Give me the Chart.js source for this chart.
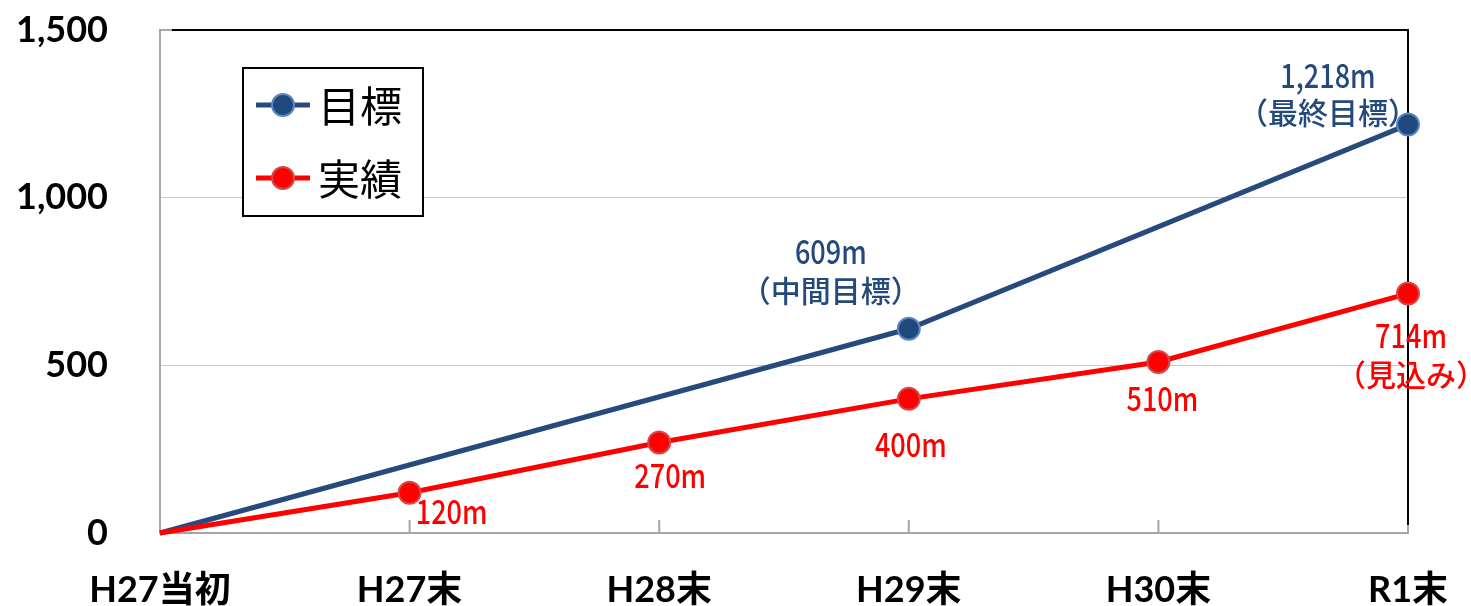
<!DOCTYPE html>
<html>
<head>
<meta charset="utf-8">
<script src="https://cdn.jsdelivr.net/npm/chart.js@4.4.1/dist/chart.umd.min.js"></script>
<style>
html,body{margin:0;padding:0;background:#fff;}
canvas{display:block;}
</style>
</head>
<body>
<canvas id="c" width="1471" height="606"></canvas>
<script>
// ---- data ----
const categories = ['H27当初', 'H27末', 'H28末', 'H29末', 'H30末', 'R1末'];
const targetValues = [0, null, null, 609, null, 1218];
const actualValues = [0, 120, 270, 400, 510, 714];
const yTickValues = [0, 500, 1000, 1500];
const targetLabels = [null, null, null, ['609m', '（中間目標）'], null, ['1,218m', '（最終目標）']];
const actualLabels = [null, ['120m'], ['270m'], ['400m'], ['510m'], ['714m', '（見込み）']];

// ---- styles ----
const BLUE = '#264a7c';
const BLUE_TXT = '#24497b';
const RED = '#ff0000';
const AXIS_GRAY = '#a6a6a6';
const GRID_GRAY = '#c8c8c8';
const CLEAR = 'rgba(0,0,0,0)';
// label offsets relative to point (first line), second line offset
const targetOffsets = [null, null, null, {dx: -78, dy: -77, dy2: -38}, null, {dx: -80, dy: -49, dy2: -12}];
const actualOffsets = [null, {dx: 42, dy: 19}, {dx: 11, dy: 33}, {dx: 2, dy: 46}, {dx: 4, dy: 36}, {dx: 3, dy: 42, dy2: 81}];

function drawText(ctx, text, x, y, font, color, sx) {
  ctx.save();
  ctx.font = font;
  ctx.fillStyle = color;
  ctx.textAlign = 'center';
  ctx.textBaseline = 'middle';
  ctx.translate(x, y);
  ctx.scale(sx, 1);
  ctx.fillText(text, 0, 0);
  ctx.restore();
}

const decorPlugin = {
  id: 'decor',
  beforeDatasetsDraw(chart) {
    const ctx = chart.ctx;
    const a = chart.chartArea;
    const xs = chart.scales.x;
    ctx.save();
    ctx.strokeStyle = AXIS_GRAY;
    ctx.lineWidth = 2;
    for (let i = 1; i < categories.length; i++) {
      const x = xs.getPixelForValue(i);
      ctx.beginPath();
      ctx.moveTo(x, a.bottom - 13);
      ctx.lineTo(x, a.bottom);
      ctx.stroke();
    }
    ctx.strokeStyle = '#000';
    ctx.lineWidth = 2;
    ctx.beginPath();
    ctx.moveTo(a.left + 12, a.top);
    ctx.lineTo(a.right, a.top);
    ctx.lineTo(a.right, a.bottom - 8);
    ctx.stroke();
    ctx.strokeStyle = AXIS_GRAY;
    ctx.beginPath();
    ctx.moveTo(a.left, a.top);
    ctx.lineTo(a.left + 12, a.top);
    ctx.stroke();
    ctx.restore();
  },
  afterDatasetsDraw(chart) {
    const ctx = chart.ctx;
    const xs = chart.scales.x, ys = chart.scales.y;
    const numFont = "500 33px 'Noto Sans CJK JP'";
    const cjkFont = "500 30px 'Noto Sans CJK JP'";
    function labelSet(values, labels, offsets, color) {
      labels.forEach((lab, i) => {
        if (!lab || values[i] == null) return;
        const px = xs.getPixelForValue(i);
        const py = ys.getPixelForValue(values[i]);
        const o = offsets[i];
        drawText(ctx, lab[0], px + o.dx, py + o.dy, numFont, color, 0.82);
        if (lab[1]) drawText(ctx, lab[1], px + o.dx, py + o.dy2, cjkFont, color, 1);
      });
    }
    labelSet(targetValues, targetLabels, targetOffsets, BLUE_TXT);
    labelSet(actualValues, actualLabels, actualOffsets, RED);

    ctx.save();
    ctx.strokeStyle = '#000';
    ctx.lineWidth = 2;
    ctx.fillStyle = '#fff';
    ctx.fillRect(243, 68, 180, 148);
    ctx.strokeRect(243, 68, 180, 148);
    const rows = [105, 178];
    const order = [1, 0];
    order.forEach((di, r) => {
      const ds = chart.data.datasets[di];
      const y = rows[r];
      ctx.strokeStyle = ds.borderColor;
      ctx.lineWidth = 5;
      ctx.beginPath();
      ctx.moveTo(256, y);
      ctx.lineTo(310, y);
      ctx.stroke();
      ctx.beginPath();
      ctx.arc(283, y, 11, 0, Math.PI * 2);
      ctx.fillStyle = ds.pointBackgroundColor;
      ctx.fill();
      ctx.lineWidth = 2;
      ctx.strokeStyle = ds.pointBorderColor;
      ctx.stroke();
      ctx.font = "42px 'Noto Sans CJK JP'";
      ctx.fillStyle = '#000';
      ctx.textAlign = 'left';
      ctx.textBaseline = 'middle';
      ctx.fillText(ds.label, 318, y + 1);
    });
    ctx.restore();
  }
};

new Chart(document.getElementById('c'), {
  type: 'line',
  data: {
    labels: categories,
    datasets: [
      {
        label: '実績',
        data: actualValues,
        borderColor: RED,
        borderWidth: 5,
        pointBackgroundColor: RED,
        pointBorderColor: '#d24a4a',
        pointBorderWidth: 2,
        pointRadius: [0, 11, 11, 11, 11, 11],
        tension: 0,
        clip: false,
        order: 0
      },
      {
        label: '目標',
        data: targetValues,
        borderColor: BLUE,
        borderWidth: 5,
        pointBackgroundColor: '#1f497d',
        pointBorderColor: '#5a86c0',
        pointBorderWidth: 2,
        pointRadius: [0, 0, 0, 11, 0, 11],
        spanGaps: true,
        tension: 0,
        clip: false,
        order: 1
      }
    ]
  },
  options: {
    responsive: false,
    animation: false,
    layout: {padding: {top: 30, right: 63, left: 0, bottom: 0}},
    plugins: {legend: {display: false}, tooltip: {enabled: false}},
    scales: {
      x: {
        offset: false,
        afterFit: s => { s.height = 73; },
        grid: {drawOnChartArea: false, drawTicks: true, tickLength: 36, tickColor: CLEAR},
        border: {color: AXIS_GRAY, width: 2},
        ticks: {
          autoSkip: false, maxRotation: 0, padding: 0,
          color: '#000',
          font: {family: "Lato, 'Noto Sans CJK JP'", size: 36, weight: 'bold'}
        }
      },
      y: {
        min: 0, max: 1500,
        afterFit: s => { s.width = 160; },
        afterBuildTicks: s => { s.ticks = yTickValues.map(v => ({value: v})); },
        grid: {
          drawTicks: true,
          tickLength: 52,
          tickColor: CLEAR,
          color: c => (c.tick && (c.tick.value === 500 || c.tick.value === 1000)) ? GRID_GRAY : CLEAR,
          lineWidth: 1
        },
        border: {color: AXIS_GRAY, width: 2},
        ticks: {
          padding: 0,
          color: '#000',
          font: {family: "Lato, 'Noto Sans CJK JP'", size: 36, weight: 'bold'},
          callback: v => v.toLocaleString('en-US')
        }
      }
    }
  },
  plugins: [decorPlugin]
});
</script>
</body>
</html>
